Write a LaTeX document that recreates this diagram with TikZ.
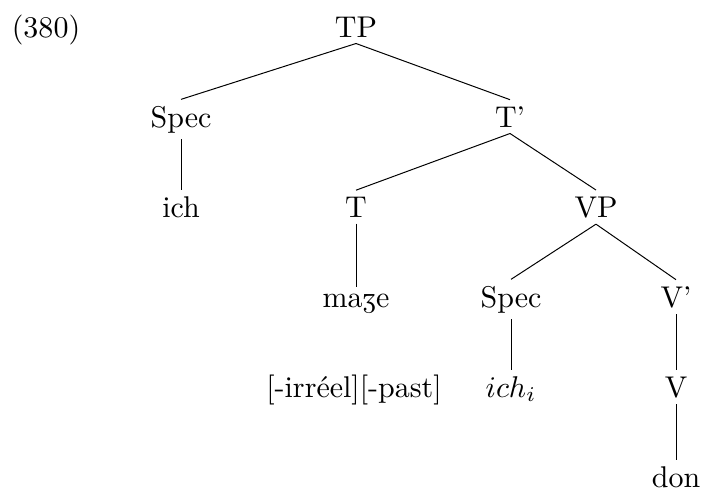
\documentclass[tikz,border=0pt]{standalone}
\usepackage{tipa}
\begin{document}
\begin{tikzpicture}[x=0.3333pt, y=-0.3333pt, line width=0.33pt, lbl/.style={anchor=base, inner sep=2pt}]
  \useasboundingbox (0,0) rectangle (702,491);
  \node[lbl] (ex) at (46,37) {(380)};

  % Nodes, row by row
  \node[lbl] (tp) at (356,37) {TP};
  \node[lbl] (spec1) at (181,127) {Spec};
  \node[lbl] (tbar) at (510,127) {T'};
  \node[lbl] (ich) at (181,217) {ich};
  \node[lbl] (t) at (356,217) {T};
  \node[lbl] (vp) at (596,217) {VP};
  \node[lbl] (maze) at (356,307) {ma\textyogh e};
  \node[lbl] (spec2) at (511,307) {Spec};
  \node[lbl] (vbar) at (676,307) {V'};
  \node[lbl] (feat) at (354,397) {[-irréel][-past]};
  \node[lbl] (ichi) at (511,397) {$ich_i$};
  \node[lbl] (v) at (676,397) {V};
  \node[lbl] (don) at (676,487) {don};

  % Branches
  \draw (tp.south) -- (spec1.north);
  \draw (tp.south) -- (tbar.north);
  \draw (spec1.south) -- (ich.north);
  \draw (tbar.south) -- (t.north);
  \draw (tbar.south) -- (vp.north);
  \draw (t.south) -- (maze.north);
  \draw (vp.south) -- (spec2.north);
  \draw (vp.south) -- (vbar.north);
  \draw (spec2.south) -- (ichi.north);
  \draw (vbar.south) -- (v.north);
  \draw (v.south) -- (don.north);
\end{tikzpicture}
\end{document}
